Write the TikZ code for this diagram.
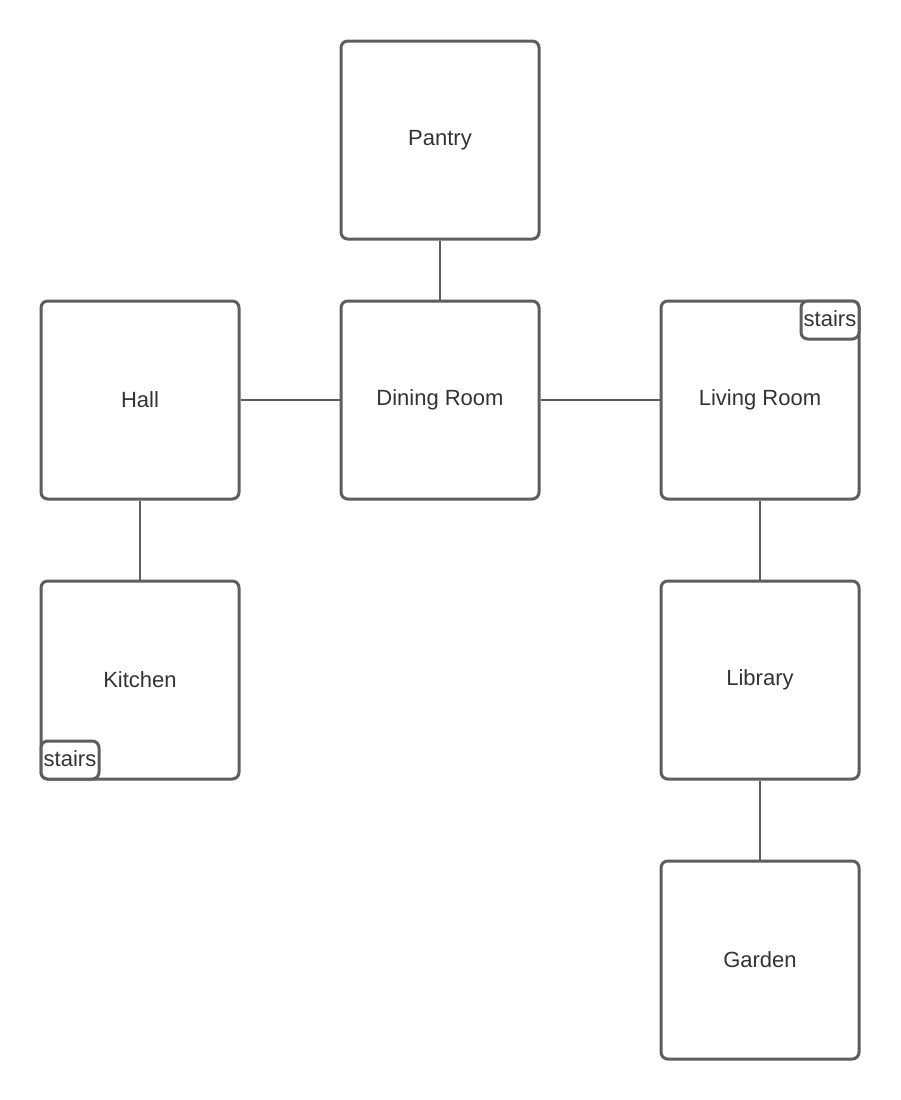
\documentclass[tikz,border=0pt]{standalone}
\usepackage{fontspec}
\setmainfont{Liberation Sans}
\begin{document}
\begin{tikzpicture}[x=0.75pt,y=-0.75pt,
  room/.style={draw=edge,line width=2.25pt,rounded corners=5pt,fill=white,minimum width=148.5pt,minimum height=148.5pt,inner sep=0pt,text=txt,font=\fontsize{16.5}{19}\selectfont},
  stairsbox/.style={draw=edge,line width=2.25pt,rounded corners=5pt,fill=white,minimum width=43.5pt,minimum height=28.5pt,inner sep=0pt,text=txt,font=\fontsize{16.5}{19}\selectfont},
  link/.style={draw=edge,line width=1.1pt}]
\definecolor{edge}{HTML}{5E5E5E}
\definecolor{txt}{HTML}{333333}
\useasboundingbox (0,0) rectangle (900,1100);
\node[room] (pantry) at (440,140) {Pantry};
\node[room] (hall) at (140,400) {Hall};
\node[room] (dining) at (440,400) {Dining Room};
\node[room] (living) at (760,400) {Living Room};
\node[room] (kitchen) at (140,680) {Kitchen};
\node[room] (library) at (760,680) {Library};
\node[room] (garden) at (760,960) {Garden};
\node[stairsbox] (stairsA) at (830,320) {\raisebox{2pt}{stairs}};
\node[stairsbox] (stairsB) at (70,760) {\raisebox{2pt}{stairs}};
\draw[link] (pantry.south) -- (dining.north);
\draw[link] (hall.east) -- (dining.west);
\draw[link] (dining.east) -- (living.west);
\draw[link] (hall.south) -- (kitchen.north);
\draw[link] (living.south) -- (library.north);
\draw[link] (library.south) -- (garden.north);
\end{tikzpicture}
\end{document}
